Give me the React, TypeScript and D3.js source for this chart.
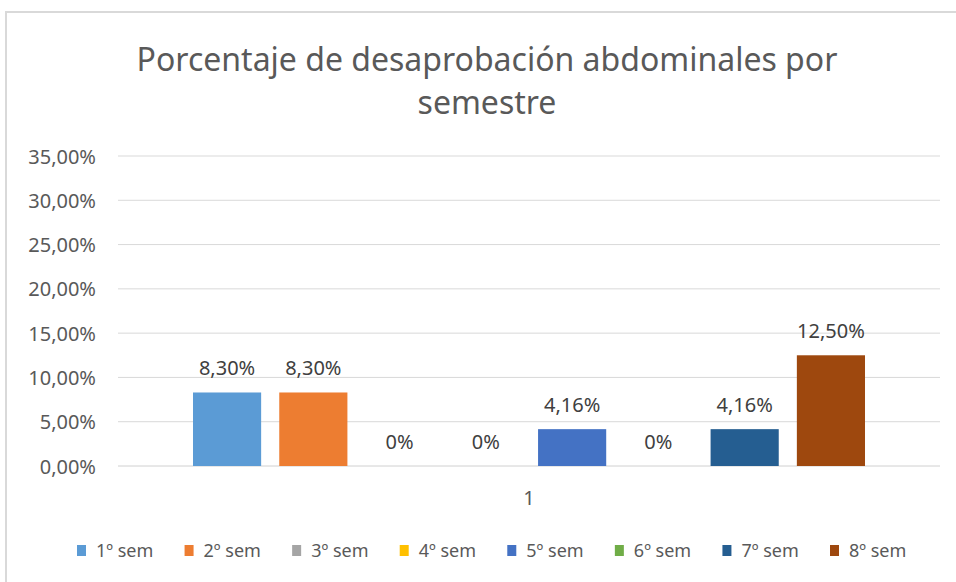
import React from "react";
import * as d3 from "d3";

const titleLines = ["Porcentaje de desaprobación abdominales por", "semestre"];
const categories = ["1"];
const seriesNames = ["1º sem", "2º sem", "3º sem", "4º sem", "5º sem", "6º sem", "7º sem", "8º sem"];
const seriesValues = [0.083, 0.083, 0, 0, 0.0416, 0, 0.0416, 0.125];
const seriesColors = ["#5B9BD5", "#ED7D31", "#A5A5A5", "#FFC000", "#4472C4", "#70AD47", "#255E91", "#9E480E"];
const yTicks = [0, 0.05, 0.1, 0.15, 0.2, 0.25, 0.3, 0.35];

const W = 956;
const H = 582;
const FONT = "'Noto Sans', 'Open Sans', sans-serif";

const fmtTick = (v: number) => (v * 100).toFixed(2).replace(".", ",") + "%";
const fmtLabel = (v: number) => (v === 0 ? "0%" : (v * 100).toFixed(2).replace(".", ",") + "%");

export default function App() {
  const plot = { left: 118, right: 940, top: 156, bottom: 466 };
  const y = d3.scaleLinear().domain([0, 0.35]).range([plot.bottom, plot.top]);
  const x0 = d3.scaleBand().domain(categories).range([plot.left, plot.right]).paddingInner(0).paddingOuter(0.1116);
  const x1 = d3.scaleBand().domain(seriesNames).range([0, x0.bandwidth()]).paddingInner(0.21).paddingOuter(0);
  const legendX = d3.scalePoint().domain(seriesNames).range([77, 830]);

  return (
    <svg width={W} height={H} style={{ position: "fixed", left: 0, top: 0, background: "#fff" }} fontFamily={FONT}>
      <rect x={0} y={0} width={W} height={H} fill="#fff" />
      <line x1={6} x2={W} y1={12} y2={12} stroke="#d9d9d9" strokeWidth={2} />
      <line x1={6} x2={6} y1={11} y2={H} stroke="#d9d9d9" strokeWidth={2} />
      {titleLines.map((t, i) => (
        <text key={i} x={487} y={58 + i * 43} textAnchor="middle" dominantBaseline="central" fontSize={32} fill="#595959">
          {t}
        </text>
      ))}
      {yTicks.map((t) => (
        <g key={t}>
          <line x1={plot.left} x2={plot.right} y1={y(t)} y2={y(t)} stroke={t === 0 ? "#d0d0d0" : "#d9d9d9"} strokeWidth={1} />
          <text x={96} y={y(t)} textAnchor="end" dominantBaseline="central" fontSize={20} fill="#595959">
            {fmtTick(t)}
          </text>
        </g>
      ))}
      {categories.map((c) => (
        <g key={c} transform={`translate(${x0(c)},0)`}>
          {seriesNames.map((s, i) => {
            const v = seriesValues[i];
            const bx = x1(s)!;
            return (
              <g key={s}>
                {v > 0 && (
                  <rect x={bx} y={y(v)} width={x1.bandwidth()} height={y(0) - y(v)} fill={seriesColors[i]} />
                )}
                <text x={bx + x1.bandwidth() / 2} y={y(v) - 25} textAnchor="middle" dominantBaseline="central" fontSize={20} fill="#404040">
                  {fmtLabel(v)}
                </text>
              </g>
            );
          })}
          <text x={x0.bandwidth() / 2} y={497} textAnchor="middle" dominantBaseline="central" fontSize={20} fill="#595959">
            {c}
          </text>
        </g>
      ))}
      {seriesNames.map((s, i) => (
        <g key={s} transform={`translate(${legendX(s)},550)`}>
          <rect x={0} y={-5} width={9} height={11} fill={seriesColors[i]} />
          <text x={19} y={0} dominantBaseline="central" fontSize={18} fill="#595959">
            {s}
          </text>
        </g>
      ))}
    </svg>
  );
}
